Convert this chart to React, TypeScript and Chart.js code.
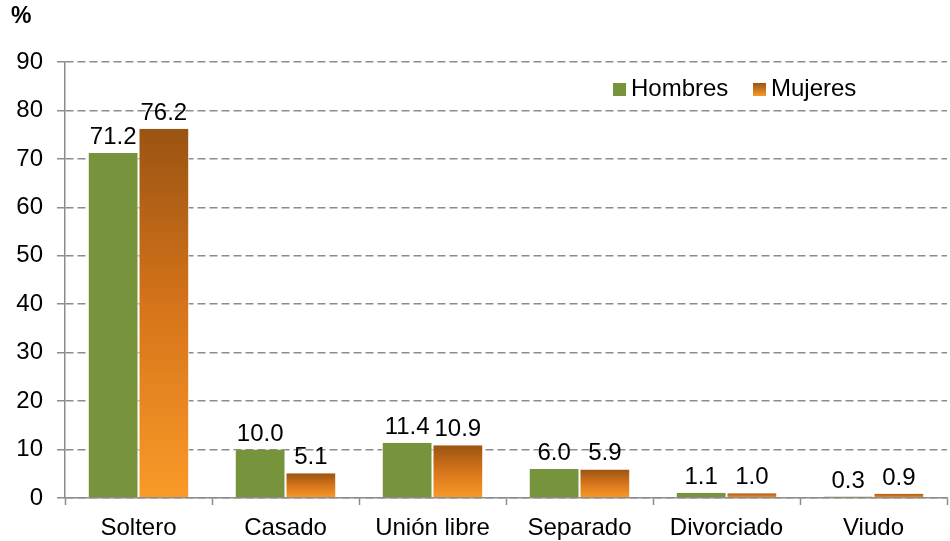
import React, { useEffect, useRef } from "react";
import { Chart, registerables } from "chart.js";

Chart.register(...registerables);

const categories = ["Soltero", "Casado", "Unión libre", "Separado", "Divorciado", "Viudo"];
const hombres = [71.2, 10.0, 11.4, 6.0, 1.1, 0.3];
const mujeres = [76.2, 5.1, 10.9, 5.9, 1.0, 0.9];
const seriesNames = ["Hombres", "Mujeres"];
const yTicks = [0, 10, 20, 30, 40, 50, 60, 70, 80, 90];

const GREEN = "#77933C";
const ORANGE_TOP = "#9A5412";
const ORANGE_BOTTOM = "#FA9A28";
const GRID = "#8C8C8C";
const FONT = "'Liberation Sans', Arial, sans-serif";

function orangeGradient(ctx: any) {
  const chart = ctx.chart;
  const y = chart.scales?.y;
  if (!y || ctx.parsed === undefined) return ORANGE_BOTTOM;
  const v = ctx.raw as number;
  const top = y.getPixelForValue(v);
  const base = y.getPixelForValue(0);
  if (!isFinite(top) || !isFinite(base) || Math.abs(base - top) < 0.5) return ORANGE_BOTTOM;
  const g = chart.ctx.createLinearGradient(0, top, 0, base);
  g.addColorStop(0, ORANGE_TOP);
  g.addColorStop(0.5, "#D7751B");
  g.addColorStop(1, ORANGE_BOTTOM);
  return g;
}

const overlayPlugin = {
  id: "overlay",
  afterDatasetsDraw(chart: any) {
    const ctx = chart.ctx;
    ctx.save();
    ctx.font = `24px ${FONT}`;
    ctx.fillStyle = "#000";
    ctx.textAlign = "center";
    ctx.textBaseline = "alphabetic";
    chart.data.datasets.forEach((ds: any, i: number) => {
      const meta = chart.getDatasetMeta(i);
      meta.data.forEach((bar: any, j: number) => {
        const v = ds.data[j] as number;
        ctx.fillText(v.toFixed(1), bar.x, bar.y - 9);
      });
    });
    // "%" title
    ctx.font = `bold 23px ${FONT}`;
    ctx.textAlign = "left";
    ctx.textBaseline = "middle";
    ctx.fillText("%", 11, 17);
    // legend
    const items = [
      { x: 613, label: seriesNames[0], fill: GREEN as any },
      { x: 753, label: seriesNames[1], fill: null as any },
    ];
    items.forEach((it) => {
      let fill = it.fill;
      if (!fill) {
        const g = ctx.createLinearGradient(0, 83, 0, 96);
        g.addColorStop(0, ORANGE_TOP);
        g.addColorStop(1, ORANGE_BOTTOM);
        fill = g;
      }
      ctx.fillStyle = fill;
      ctx.fillRect(it.x, 83, 13, 13);
      ctx.fillStyle = "#000";
      ctx.font = `24px ${FONT}`;
      ctx.textBaseline = "middle";
      ctx.fillText(it.label, it.x + 18, 89);
    });
    ctx.restore();
  },
};

export default function App() {
  const ref = useRef<HTMLCanvasElement>(null);
  useEffect(() => {
    document.body.style.margin = "0";
    const chart = new Chart(ref.current!, {
      type: "bar",
      data: {
        labels: categories,
        datasets: [
          {
            label: seriesNames[0],
            data: hombres,
            backgroundColor: GREEN,
            borderColor: "#FFFFFF",
            borderWidth: { left: 1, right: 1, top: 0, bottom: 0 } as any,
            borderSkipped: false,
          },
          {
            label: seriesNames[1],
            data: mujeres,
            backgroundColor: orangeGradient as any,
            borderColor: "#FFFFFF",
            borderWidth: { left: 1, right: 1, top: 0, bottom: 0 } as any,
            borderSkipped: false,
          },
        ],
      },
      options: {
        responsive: false,
        animation: false,
        events: [],
        layout: { padding: { left: 0, right: 3, top: 62, bottom: 0 } },
        datasets: { bar: { categoryPercentage: 0.69, barPercentage: 1 } },
        plugins: { legend: { display: false }, tooltip: { enabled: false }, title: { display: false } },
        scales: {
          x: {
            grid: {
              display: true,
              drawOnChartArea: false,
              drawTicks: true,
              tickLength: 7,
              tickColor: GRID,
              tickWidth: 1.5,
              offset: true,
            },
            border: { display: true, color: GRID, width: 1.5 },
            ticks: {
              color: "#000",
              font: { family: FONT, size: 24 },
              padding: 9,
              maxRotation: 0,
            },
            afterFit: (s: any) => {
              s.height = 43;
            },
          },
          y: {
            min: 0,
            max: 90,
            afterBuildTicks: (s: any) => {
              s.ticks = yTicks.map((v) => ({ value: v }));
            },
            grid: {
              color: GRID,
              lineWidth: 1.5,
              drawTicks: true,
              tickLength: 8,
              tickColor: GRID,
              tickWidth: 1.5,
            },
            border: { display: true, color: GRID, width: 1.5, dash: [8, 4] },
            ticks: {
              color: "#000",
              font: { family: FONT, size: 24 },
              padding: 14,
            },
            afterFit: (s: any) => {
              s.width = 65;
            },
          },
        },
      },
      plugins: [overlayPlugin],
    });
    return () => chart.destroy();
  }, []);
  return <canvas ref={ref} width={950} height={541} style={{ display: "block" }} />;
}
